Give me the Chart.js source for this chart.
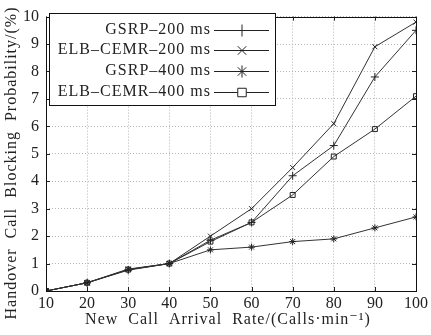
<!DOCTYPE html>
<html>
<head>
<meta charset="utf-8">
<script src="https://cdn.jsdelivr.net/npm/chart.js@4.4.1/dist/chart.umd.min.js"></script>
<style>
  html, body { margin: 0; padding: 0; background: #fff; }
  #wrap { width: 431px; height: 335px; }
</style>
</head>
<body>
<div id="wrap"><canvas id="blockChart" width="431" height="335"></canvas></div>
<script>
// values
const arrivalRates = [10, 20, 30, 40, 50, 60, 70, 80, 90, 100];
const gsrp200 = [0, 0.3, 0.76, 1.0, 1.85, 2.5, 4.2, 5.3, 7.8, 9.5];
const elbCemr200 = [0, 0.3, 0.8, 1.0, 2.0, 3.0, 4.5, 6.1, 8.9, 9.8];
const gsrp400 = [0, 0.3, 0.78, 1.0, 1.5, 1.6, 1.8, 1.9, 2.3, 2.7];
const elbCemr400 = [0, 0.3, 0.78, 1.0, 1.8, 2.5, 3.5, 4.9, 5.9, 7.1];
const seriesNames = ['GSRP\u2013200 ms', 'ELB\u2013CEMR\u2013200 ms', 'GSRP\u2013400 ms', 'ELB\u2013CEMR\u2013400 ms'];
const yTicks = [0, 1, 2, 3, 4, 5, 6, 7, 8, 9, 10];

const xTitle = 'New  Call  Arrival  Rate/(Calls\u00b7min\u207b\u00b9)';
const yTitle = 'Handover  Call  Blocking  Probability/(%)';
const serif = '"Liberation Serif", "DejaVu Serif", serif';

function toPoints(vals) {
  return arrivalRates.map((x, i) => ({ x: x, y: vals[i] }));
}

function makeSet(label, vals, style, radius) {
  return {
    label: label,
    data: toPoints(vals),
    borderColor: '#333',
    borderWidth: 1,
    pointStyle: style,
    pointRadius: radius,
    pointBorderColor: '#222',
    pointBackgroundColor: 'rgba(0,0,0,0)',
    pointBorderWidth: 1,
    tension: 0
  };
}

// legend box, axis titles and inward tick marks, drawn like the original figure
const figureExtras = {
  id: 'figureExtras',
  afterDraw(chart) {
    const ctx = chart.ctx;
    const area = chart.chartArea;
    const xs = chart.scales.x;
    const ys = chart.scales.y;
    ctx.save();

    // inward tick marks
    ctx.strokeStyle = '#222';
    ctx.lineWidth = 1;
    ctx.beginPath();
    arrivalRates.forEach(v => {
      const px = Math.round(xs.getPixelForValue(v)) + 0.5;
      ctx.moveTo(px, area.bottom); ctx.lineTo(px, area.bottom - 4);
      ctx.moveTo(px, area.top); ctx.lineTo(px, area.top + 4);
    });
    yTicks.forEach(v => {
      const py = Math.round(ys.getPixelForValue(v)) + 0.5;
      ctx.moveTo(area.left, py); ctx.lineTo(area.left + 4, py);
      ctx.moveTo(area.right, py); ctx.lineTo(area.right - 4, py);
    });
    ctx.stroke();

    // plot frame
    ctx.strokeStyle = '#111';
    ctx.strokeRect(Math.round(area.left) + 0.5, Math.round(area.top) + 0.5,
      Math.round(area.right - area.left), Math.round(area.bottom - area.top));

    // legend
    const bx = 49.5, by = 13.5, bw = 226, bh = 92;
    ctx.fillStyle = '#fff';
    ctx.fillRect(bx, by, bw, bh);
    ctx.strokeStyle = '#111';
    ctx.strokeRect(bx, by, bw, bh);
    ctx.font = '16px ' + serif;
    ctx.letterSpacing = '1px';
    ctx.textAlign = 'right';
    ctx.textBaseline = 'middle';
    chart.data.datasets.forEach((ds, i) => {
      const ly = 29.5 + i * 20.7;
      ctx.fillStyle = '#222';
      ctx.fillText(ds.label, 211, ly);
      ctx.strokeStyle = '#222';
      ctx.beginPath();
      ctx.moveTo(214, Math.round(ly) + 0.5);
      ctx.lineTo(269, Math.round(ly) + 0.5);
      ctx.stroke();
      ctx.fillStyle = '#fff';
      Chart.helpers.drawPoint(ctx, {
        pointStyle: ds.pointStyle,
        radius: 6,
        borderWidth: 1.2
      }, 242, Math.round(ly) + 0.5);
    });

    // axis titles
    ctx.fillStyle = '#222';
    ctx.font = '16px ' + serif;
    ctx.letterSpacing = '1px';
    ctx.textAlign = 'center';
    ctx.textBaseline = 'middle';
    ctx.fillText(xTitle, 228, 320);
    ctx.translate(12, 163);
    ctx.rotate(-Math.PI / 2);
    ctx.fillText(yTitle, 0, 0);
    ctx.restore();
  }
};

const chart = new Chart(document.getElementById('blockChart'), {
  type: 'line',
  data: {
    datasets: [
      makeSet(seriesNames[0], gsrp200, 'cross', 4),
      makeSet(seriesNames[1], elbCemr200, 'crossRot', 3.5),
      makeSet(seriesNames[2], gsrp400, 'star', 3.5),
      makeSet(seriesNames[3], elbCemr400, 'rect', 3.5)
    ]
  },
  options: {
    responsive: false,
    animation: false,
    layout: { padding: { top: 11, right: 15, left: 0, bottom: 0 } },
    plugins: {
      legend: { display: false },
      tooltip: { enabled: false }
    },
    scales: {
      x: {
        type: 'linear',
        min: 10,
        max: 100,
        afterFit(scale) { scale.height = 44; },
        afterBuildTicks(scale) { scale.ticks = arrivalRates.map(v => ({ value: v })); },
        grid: { color: '#b4b4b4', drawTicks: false },
        border: { display: false, dash: [1, 2] },
        ticks: { color: '#222', font: { family: serif, size: 16 }, padding: 3, maxRotation: 0 }
      },
      y: {
        min: 0,
        max: 10,
        afterFit(scale) { scale.width = 46; },
        afterBuildTicks(scale) { scale.ticks = yTicks.map(v => ({ value: v })); },
        grid: { color: '#b4b4b4', drawTicks: false },
        border: { display: false, dash: [1, 2] },
        ticks: { color: '#222', font: { family: serif, size: 16 }, padding: 7 }
      }
    }
  },
  plugins: [figureExtras]
});
</script>
</body>
</html>
